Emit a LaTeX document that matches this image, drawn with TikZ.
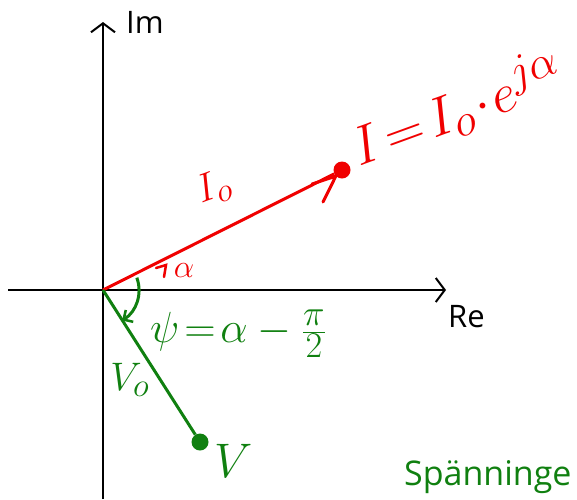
\documentclass[tikz,border=0pt]{standalone}
\usepackage{fontspec}
\usepackage{graphicx}
\newfontfamily\labelfont{Open Sans}
\usetikzlibrary{arrows.meta}
\definecolor{pred}{RGB}{240,0,0}
\definecolor{pgreen}{RGB}{16,128,16}
\newcommand\hwmath[2]{\scalebox{#1}{\Huge$#2$}}
\begin{document}
\begin{tikzpicture}[x=1pt,y=-1pt,
  axis/.style={line width=2pt,black,-{Straight Barb[length=9pt,width=24pt,line width=2pt]}},
  redvec/.style={line width=3pt,pred},
  greenvec/.style={line width=3pt,pgreen},
  dotnode/.style={circle,inner sep=0pt,minimum size=17pt},
  axlabel/.style={font=\labelfont\fontsize{31}{34}\selectfont,inner sep=0pt},
  hand/.style={inner sep=0pt}]
\useasboundingbox (0,0) rectangle (577,499);
% axes
\coordinate (O) at (103,290);
\coordinate (ybot) at (103,499);
\coordinate (ytop) at (103,22);
\coordinate (xleft) at (8,290);
\coordinate (xright) at (446,290);
\draw[axis] (ybot) -- (ytop);
\draw[axis] (xleft) -- (xright);
\node[axlabel,anchor=west] (im) at (126,22) {Im};
\node[axlabel,anchor=west] (re) at (448,317) {Re};
% current phasor
\node[dotnode,fill=pred] (Ip) at (342,170) {};
\draw[redvec] (O) -- (Ip);
\coordinate (ra1) at (312,184);
\coordinate (ra2) at (323,202);
\draw[redvec,line cap=round] (ra1) -- (Ip.south west) -- (ra2);
\node[hand,text=pred,rotate=20] (i0) at (214,188) {\hwmath{1.6}{I_{o}}};
\node[hand,text=pred,rotate=20,anchor=south west] (ieq) at (362,174) {\hwmath{2.2}{I\!=\!I_{o}\!\cdot\! e^{j\alpha}}};
\node[hand,text=pred] (alph) at (184,271) {\hwmath{1.3}{\alpha}};
\coordinate (h1) at (156,268);
\coordinate (h2) at (166,265);
\coordinate (h3) at (164,277);
\draw[pred,line width=2.5pt,line cap=round] (h1) -- (h2) -- (h3);
% voltage phasor
\node[dotnode,fill=pgreen] (Vp) at (200,442) {};
\draw[greenvec] (O) -- (Vp);
\node[hand,text=pgreen] (v0) at (130,380) {\hwmath{1.6}{V_{o}}};
\node[hand,text=pgreen] (v) at (234,461) {\hwmath{1.95}{V}};
% angle psi
\draw[greenvec,-{Straight Barb[length=7pt,width=14pt,line width=2.5pt]}] (O) ++(-20:36) arc[start angle=-20,end angle=58,radius=36];
\node[hand,text=pgreen,anchor=west] (psi) at (150,334) {\hwmath{1.75}{\psi\!=\!\alpha-\frac{\pi}{2}}};
% caption
\node[axlabel,text=pgreen,anchor=west,font=\labelfont\fontsize{34}{38}\selectfont] (cap) at (404,477) {Spänninge};
\end{tikzpicture}
\end{document}
